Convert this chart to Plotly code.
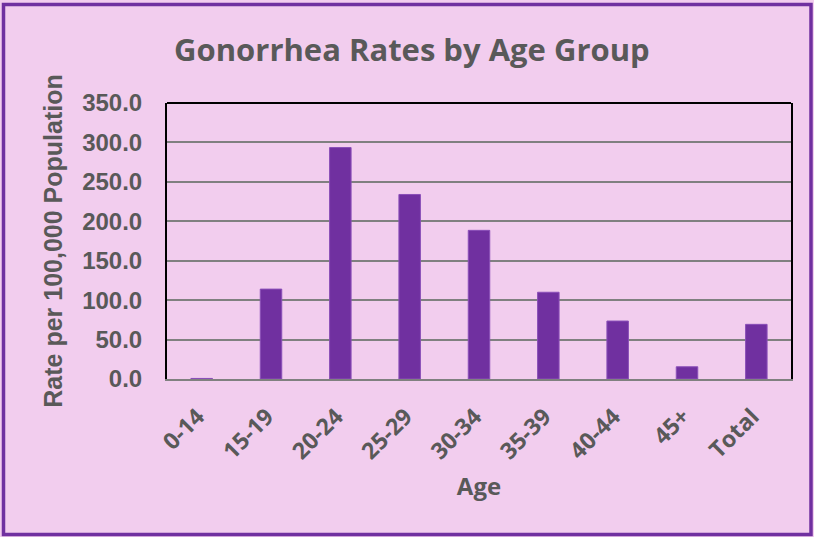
import plotly.graph_objects as go

age_groups = ["0-14", "15-19", "20-24", "25-29", "30-34", "35-39", "40-44", "45+", "Total"]
rates = [0.7, 114.0, 293.5, 234.0, 188.5, 110.0, 73.5, 15.5, 69.3]
y_ticks = [0, 50, 100, 150, 200, 250, 300, 350]

bg = "#f2cdee"
purple = "#7030a0"
grey_text = "#595959"

fig = go.Figure(go.Bar(x=age_groups, y=rates, marker=dict(color=purple, line=dict(color="#8a4fb8", width=1))))

# plot area spans px 167..791 horizontally and 103..379 vertically
W, H = 814, 537
L, R, T, B = 167, 23, 103, 158
pw, ph = W - L - R, H - T - B

def px_x(p):
    return (p - L) / pw

def px_y(p):
    return (H - B - p) / ph

fig.update_layout(
    width=W, height=H,
    margin=dict(l=L, r=R, t=T, b=B, autoexpand=False),
    paper_bgcolor=bg, plot_bgcolor=bg,
    bargap=0.69,
    showlegend=False,
    title=dict(text="<b>Gonorrhea Rates by Age Group</b>", x=0.506, xanchor="center",
               y=1 - 50 / H, yanchor="middle",
               font=dict(family="Open Sans", size=31, color=grey_text)),
)

fig.update_yaxes(
    range=[0, 350], tickvals=y_ticks, tickformat=".1f",
    showgrid=True, gridcolor="#808080", gridwidth=2,
    showline=True, linecolor="black", linewidth=2, mirror=True,
    zeroline=False, ticks="", ticklabelstandoff=18,
    tickfont=dict(family="Liberation Sans", size=24, color=grey_text, weight="bold"),
    title=dict(text="<b>Rate per 100,000 Population</b>", standoff=12,
               font=dict(family="Liberation Sans", size=25, color=grey_text)),
)

fig.update_xaxes(
    showline=True, linecolor="#808080", linewidth=2,
    tickangle=-45, ticks="", ticklabelstandoff=13, ticklabelshift=-4,
    tickfont=dict(family="Open Sans", size=23, color=grey_text, weight="bold"),
    title=dict(text="<b>Age</b>", standoff=14,
               font=dict(family="Open Sans", size=24, color=grey_text)),
)

# top edge of the plot frame and the purple outer border
fig.add_shape(type="line", xref="paper", yref="paper", x0=0, x1=1, y0=1, y1=1,
              line=dict(color="black", width=2))
fig.add_shape(type="rect", xref="paper", yref="paper",
              x0=px_x(3.5), x1=px_x(811), y0=px_y(4.5), y1=px_y(534.5),
              line=dict(color=purple, width=3.5))

fig.write_html("out.html", config={"displayModeBar": False},
               post_script="document.body.style.margin='0';")
